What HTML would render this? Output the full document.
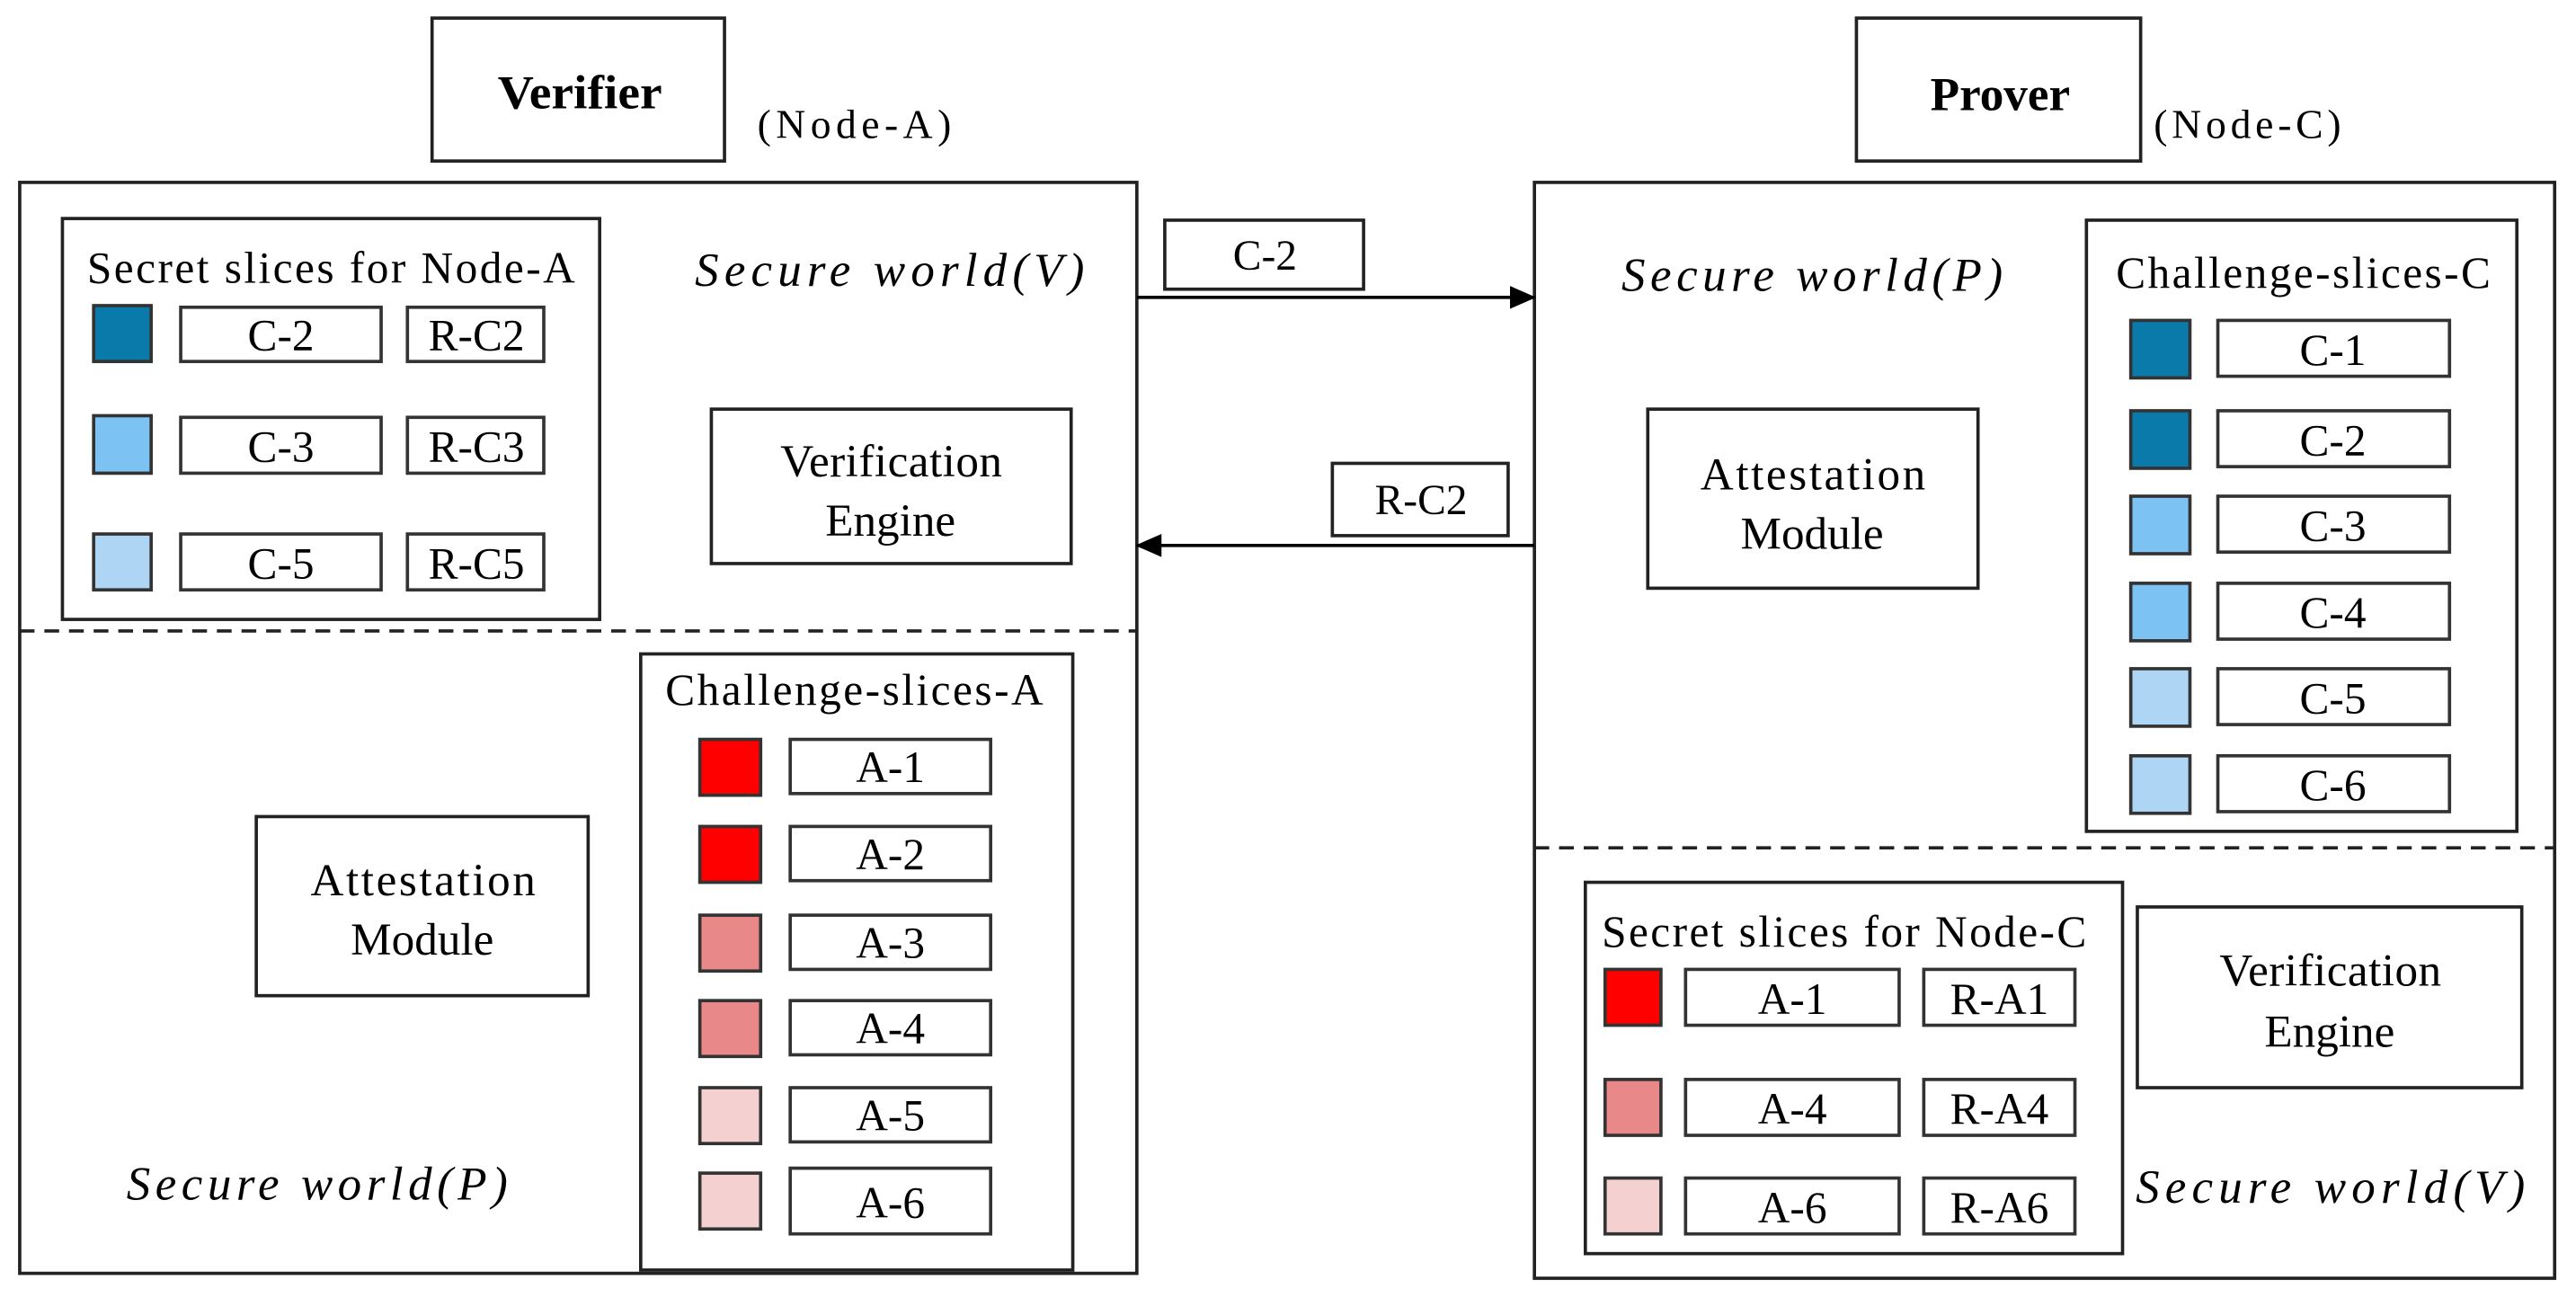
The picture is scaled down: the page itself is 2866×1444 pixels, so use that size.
<!DOCTYPE html>
<html><head><meta charset="utf-8"><style>
html,body{margin:0;padding:0;background:#fff;}
svg{display:block;}
text{font-family:"Liberation Serif",serif;fill:#000;}
</style></head><body>
<svg width="2866" height="1444" viewBox="0 0 1568 790" xmlns="http://www.w3.org/2000/svg">
<defs>
<marker id="ah" markerWidth="16" markerHeight="14" refX="15" refY="7" orient="auto" markerUnits="userSpaceOnUse">
<path d="M0,0 L16,7 L0,14 z" fill="#000"/>
</marker>
</defs>
<g fill="none" stroke="#222" stroke-width="2">
<rect x="263" y="11" width="178" height="87"/>
<rect x="1130" y="11" width="173" height="87"/>
<rect x="12" y="111" width="680" height="664"/>
<rect x="934" y="111" width="621" height="667"/>
<line x1="12" y1="384" x2="692" y2="384" stroke-dasharray="9,6"/>
<line x1="934" y1="516" x2="1555" y2="516" stroke-dasharray="9,6"/>
<rect x="38" y="133" width="327" height="244"/>
<rect x="433" y="249" width="219" height="94"/>
<rect x="709" y="134" width="121" height="42"/>
<rect x="811" y="282" width="107" height="44"/>
<rect x="390" y="398" width="263" height="375"/>
<rect x="156" y="497" width="202" height="109"/>
<rect x="1270" y="134" width="262" height="372"/>
<rect x="1003" y="249" width="201" height="109"/>
<rect x="965" y="537" width="327" height="226"/>
<rect x="1301" y="552" width="234" height="110"/>
</g>
<line x1="692" y1="181" x2="934" y2="181" stroke="#000" stroke-width="2" marker-end="url(#ah)"/>
<line x1="934" y1="332" x2="692" y2="332" stroke="#000" stroke-width="2" marker-end="url(#ah)"/>

<text x="303" y="66" font-size="29" font-weight="bold" textLength="100" lengthAdjust="spacingAndGlyphs">Verifier</text>
<text x="461" y="84" font-size="25" textLength="118" lengthAdjust="spacing">(Node-A)</text>
<text x="1175" y="67" font-size="29" font-weight="bold" textLength="85" lengthAdjust="spacingAndGlyphs">Prover</text>
<text x="1311" y="84" font-size="25" textLength="114" lengthAdjust="spacing">(Node-C)</text>

<text x="53" y="172" font-size="27" textLength="297" lengthAdjust="spacing">Secret slices for Node-A</text>
<text x="423" y="174" font-size="29" font-style="italic" textLength="237" lengthAdjust="spacing">Secure world(V)</text>
<text x="475" y="290" font-size="28" textLength="135" lengthAdjust="spacing">Verification</text>
<text x="542" y="326" font-size="28" text-anchor="middle">Engine</text>
<text x="770" y="164" font-size="26" text-anchor="middle">C-2</text>
<text x="865" y="313" font-size="26" text-anchor="middle">R-C2</text>
<text x="405" y="429" font-size="27" textLength="230" lengthAdjust="spacing">Challenge-slices-A</text>
<text x="189" y="545" font-size="28" textLength="137" lengthAdjust="spacing">Attestation</text>
<text x="257" y="581" font-size="28" text-anchor="middle">Module</text>
<text x="77" y="730" font-size="29" font-style="italic" textLength="232" lengthAdjust="spacing">Secure world(P)</text>

<text x="987" y="177" font-size="29" font-style="italic" textLength="232" lengthAdjust="spacing">Secure world(P)</text>
<text x="1288" y="175" font-size="27" textLength="228" lengthAdjust="spacing">Challenge-slices-C</text>
<text x="1035" y="298" font-size="28" textLength="137" lengthAdjust="spacing">Attestation</text>
<text x="1103" y="334" font-size="28" text-anchor="middle">Module</text>
<text x="975" y="576" font-size="27" textLength="295" lengthAdjust="spacing">Secret slices for Node-C</text>
<text x="1351" y="600" font-size="28" textLength="135" lengthAdjust="spacing">Verification</text>
<text x="1418" y="637" font-size="28" text-anchor="middle">Engine</text>
<text x="1300" y="732" font-size="29" font-style="italic" textLength="237" lengthAdjust="spacing">Secure world(V)</text>

<g stroke="#333" stroke-width="2">
<rect x="57" y="186" width="35" height="34" fill="#0a7aaa"/>
<rect x="57" y="253" width="35" height="35" fill="#7cc2f2"/>
<rect x="57" y="325" width="35" height="34" fill="#afd5f5"/>
<rect x="110" y="187" width="122" height="33" fill="#fff"/>
<rect x="248" y="187" width="83" height="33" fill="#fff"/>
<rect x="110" y="254" width="122" height="34" fill="#fff"/>
<rect x="248" y="254" width="83" height="34" fill="#fff"/>
<rect x="110" y="325" width="122" height="34" fill="#fff"/>
<rect x="248" y="325" width="83" height="34" fill="#fff"/>
<rect x="426" y="450" width="37" height="34" fill="#ff0000"/>
<rect x="426" y="503" width="37" height="34" fill="#ff0000"/>
<rect x="426" y="557" width="37" height="34" fill="#e88888"/>
<rect x="426" y="609" width="37" height="34" fill="#e88888"/>
<rect x="426" y="662" width="37" height="34" fill="#f5d0d0"/>
<rect x="426" y="714" width="37" height="34" fill="#f5d0d0"/>
<rect x="481" y="450" width="122" height="33" fill="#fff"/>
<rect x="481" y="503" width="122" height="33" fill="#fff"/>
<rect x="481" y="557" width="122" height="33" fill="#fff"/>
<rect x="481" y="609" width="122" height="33" fill="#fff"/>
<rect x="481" y="662" width="122" height="33" fill="#fff"/>
<rect x="481" y="711" width="122" height="40" fill="#fff"/>
<rect x="1297" y="195" width="36" height="35" fill="#0a7aaa"/>
<rect x="1297" y="250" width="36" height="35" fill="#0a7aaa"/>
<rect x="1297" y="302" width="36" height="35" fill="#7cc2f2"/>
<rect x="1297" y="355" width="36" height="35" fill="#7cc2f2"/>
<rect x="1297" y="407" width="36" height="35" fill="#afd5f5"/>
<rect x="1297" y="460" width="36" height="35" fill="#afd5f5"/>
<rect x="1350" y="195" width="141" height="34" fill="#fff"/>
<rect x="1350" y="250" width="141" height="34" fill="#fff"/>
<rect x="1350" y="302" width="141" height="34" fill="#fff"/>
<rect x="1350" y="355" width="141" height="34" fill="#fff"/>
<rect x="1350" y="407" width="141" height="34" fill="#fff"/>
<rect x="1350" y="460" width="141" height="34" fill="#fff"/>
<rect x="977" y="590" width="34" height="34" fill="#ff0000"/>
<rect x="977" y="657" width="34" height="34" fill="#e88888"/>
<rect x="977" y="717" width="34" height="34" fill="#f5d0d0"/>
<rect x="1026" y="590" width="130" height="34" fill="#fff"/>
<rect x="1171" y="590" width="92" height="34" fill="#fff"/>
<rect x="1026" y="657" width="130" height="34" fill="#fff"/>
<rect x="1171" y="657" width="92" height="34" fill="#fff"/>
<rect x="1026" y="717" width="130" height="34" fill="#fff"/>
<rect x="1171" y="717" width="92" height="34" fill="#fff"/>
</g>
<g font-size="27" text-anchor="middle">
<text x="171" y="213">C-2</text><text x="290" y="213">R-C2</text>
<text x="171" y="281">C-3</text><text x="290" y="281">R-C3</text>
<text x="171" y="352">C-5</text><text x="290" y="352">R-C5</text>
<text x="542" y="476">A-1</text><text x="542" y="529">A-2</text>
<text x="542" y="583">A-3</text><text x="542" y="635">A-4</text>
<text x="542" y="688">A-5</text><text x="542" y="741">A-6</text>
<text x="1420" y="222">C-1</text><text x="1420" y="277">C-2</text>
<text x="1420" y="329">C-3</text><text x="1420" y="382">C-4</text>
<text x="1420" y="434">C-5</text><text x="1420" y="487">C-6</text>
<text x="1091" y="617">A-1</text><text x="1217" y="617">R-A1</text>
<text x="1091" y="684">A-4</text><text x="1217" y="684">R-A4</text>
<text x="1091" y="744">A-6</text><text x="1217" y="744">R-A6</text>
</g>
</svg>
</body></html>
